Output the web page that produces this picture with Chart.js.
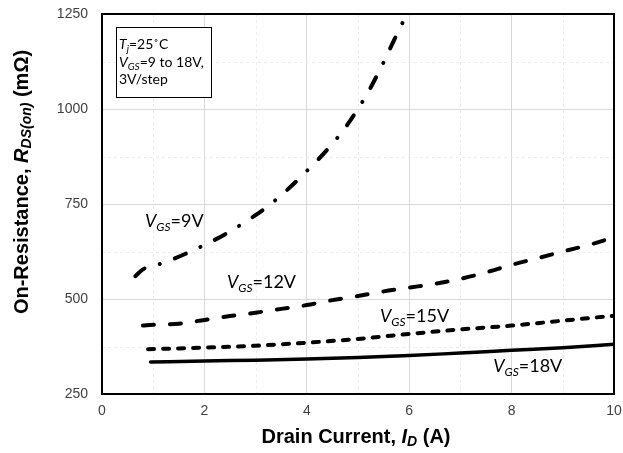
<!DOCTYPE html>
<html>
<head>
<meta charset="utf-8">
<script src="https://cdn.jsdelivr.net/npm/chart.js@4"></script>
<style>
  html, body { margin: 0; padding: 0; background: #fff; }
  #wrap { width: 623px; height: 453px; }
</style>
</head>
<body>
<div id="wrap"><canvas id="canvas" width="623" height="453"></canvas></div>
<script>
// Drain current (A) and on-resistance (mOhm)
const current9 = [0.65, 0.8, 1.2, 1.6, 2.0, 2.4, 2.8, 3.2, 3.6, 4.0, 4.4, 4.8, 5.2, 5.5, 5.7, 5.9];
const rds9 = [560, 578, 595, 617, 642, 670, 703, 740, 785, 837, 893, 960, 1045, 1123, 1180, 1235];

const current12 = [0.8, 1.0, 1.5, 2.0, 2.5, 3.0, 3.5, 4.0, 4.5, 5.0, 5.5, 6.0, 6.5, 7.0, 7.5, 8.0, 8.5, 9.0, 9.5, 10];
const rds12 = [430, 432, 435, 445, 455, 464, 474, 484, 497, 508, 520, 530, 540, 553, 570, 590, 607, 625, 642, 662];

const current15 = [0.9, 1.5, 2, 3, 4, 5, 6, 7, 8, 9, 10];
const rds15 = [368, 370, 372, 377, 385, 395, 408, 420, 430, 443, 456];

const current18 = [0.95, 2, 3, 4, 5, 6, 7, 8, 9, 10];
const rds18 = [334, 337, 339, 342, 346, 351, 358, 365, 372, 381];

const xTicks = [0, 2, 4, 6, 8, 10];
const yTicks = [250, 500, 750, 1000, 1250];

// curve labels, anchored in data units
const curveLabels = [
  { gs: '=9V', x: 0.84, y: 690 },
  { gs: '=12V', x: 2.44, y: 529 },
  { gs: '=15V', x: 5.43, y: 440 },
  { gs: '=18V', x: 7.64, y: 309 }
];

function pts(xs, ys) {
  return xs.map((x, i) => ({ x: x, y: ys[i] }));
}

// draw a run of text pieces with different fonts / offsets
function richText(ctx, parts, x, y, align) {
  let w = 0;
  parts.forEach(p => { ctx.font = p.font; w += ctx.measureText(p.t).width; });
  let cx = align === 'center' ? x - w / 2 : x;
  parts.forEach(p => {
    ctx.font = p.font;
    ctx.fillText(p.t, cx, y + (p.dy || 0));
    cx += ctx.measureText(p.t).width;
  });
}

const LAB = '"Lato", "Open Sans", sans-serif';
const AX = '"Liberation Sans", Arial, sans-serif';

const extras = {
  id: 'extras',
  beforeDatasetsDraw(chart) {
    // minor dashed grid
    const { ctx, chartArea: a, scales: { x, y } } = chart;
    ctx.save();
    ctx.strokeStyle = '#ececec';
    ctx.lineWidth = 1;
    ctx.setLineDash([3, 3]);
    for (let v = 1; v < 10; v += 2) {
      const px = Math.round(x.getPixelForValue(v)) + 0.5;
      ctx.beginPath(); ctx.moveTo(px, a.top); ctx.lineTo(px, a.bottom); ctx.stroke();
    }
    for (let v = 375; v < 1250; v += 250) {
      const py = Math.round(y.getPixelForValue(v)) + 0.5;
      ctx.beginPath(); ctx.moveTo(a.left, py); ctx.lineTo(a.right, py); ctx.stroke();
    }
    ctx.restore();
  },
  afterDatasetsDraw(chart) {
    const { ctx, chartArea: a, scales: { x, y } } = chart;
    ctx.save();
    // plot frame
    ctx.strokeStyle = '#000';
    ctx.lineWidth = 2;
    ctx.strokeRect(a.left, a.top, a.right - a.left, a.bottom - a.top);

    // curve labels
    ctx.fillStyle = '#000';
    ctx.textBaseline = 'alphabetic';
    ctx.textAlign = 'left';
    curveLabels.forEach(l => {
      richText(ctx, [
        { t: 'V', font: 'italic 18px ' + LAB },
        { t: 'GS', font: 'italic 12px ' + LAB, dy: 4 },
        { t: l.gs, font: '18px ' + LAB }
      ], x.getPixelForValue(l.x), y.getPixelForValue(l.y), 'left');
    });

    // condition box
    const bx = a.left + 14, by = a.top + 13;
    ctx.fillStyle = '#fff';
    ctx.fillRect(bx, by, 95, 70);
    ctx.strokeStyle = '#000';
    ctx.lineWidth = 1;
    ctx.strokeRect(bx + 0.5, by + 0.5, 95, 70);
    ctx.fillStyle = '#000';
    richText(ctx, [
      { t: 'T', font: 'italic 14px ' + LAB },
      { t: 'j', font: 'italic 10px ' + LAB, dy: 3 },
      { t: '=25\u02DAC', font: '14px ' + LAB }
    ], bx + 3, by + 22, 'left');
    richText(ctx, [
      { t: 'V', font: 'italic 14px ' + LAB },
      { t: 'GS', font: 'italic 10px ' + LAB, dy: 3 },
      { t: '=9 to 18V,', font: '14px ' + LAB }
    ], bx + 3, by + 40, 'left');
    richText(ctx, [
      { t: '3V/step', font: '14px ' + LAB }
    ], bx + 3, by + 57, 'left');

    // x axis title
    ctx.textBaseline = 'middle';
    richText(ctx, [
      { t: 'Drain Current, ', font: 'bold 20px ' + AX },
      { t: 'I', font: 'italic bold 20px ' + AX },
      { t: 'D', font: 'italic bold 14px ' + AX, dy: 5 },
      { t: ' (A)', font: 'bold 20px ' + AX }
    ], 356, 437, 'center');

    // y axis title
    ctx.translate(22, 182);
    ctx.rotate(-Math.PI / 2);
    richText(ctx, [
      { t: 'On-Resistance, ', font: 'bold 20px ' + AX },
      { t: 'R', font: 'italic bold 20px ' + AX },
      { t: 'DS(on)', font: 'italic bold 14px ' + AX, dy: 5 },
      { t: ' (m\u03A9)', font: 'bold 20px ' + AX }
    ], 0, 0, 'center');
    ctx.restore();
  }
};

const line = (label, xs, ys, dash, w) => ({
  label: label,
  data: pts(xs, ys),
  borderColor: '#000',
  borderWidth: w,
  borderDash: dash,
  borderCapStyle: 'round',
  pointRadius: 0,
  cubicInterpolationMode: 'monotone',
  fill: false
});

const data = {
  datasets: [
    line('VGS=9V', current9, rds9, [12, 16, 0.1, 16], 4),
    line('VGS=12V', current12, rds12, [11, 16], 4),
    line('VGS=15V', current15, rds15, [6, 9], 4),
    line('VGS=18V', current18, rds18, [], 3.5)
  ]
};

const config = {
  type: 'line',
  data: data,
  options: {
    responsive: false,
    animation: false,
    layout: { padding: { top: 14, right: 9, left: 0, bottom: 0 } },
    plugins: { legend: { display: false }, tooltip: { enabled: false } },
    scales: {
      x: {
        type: 'linear',
        min: 0, max: 10,
        afterFit: s => { s.height = 59; s.paddingLeft = 0; s.paddingRight = 0; },
        afterBuildTicks: s => { s.ticks = xTicks.map(v => ({ value: v })); },
        grid: { color: '#d9d9d9', drawTicks: false },
        border: { display: false },
        ticks: { padding: 9, color: '#404040', font: { family: AX, size: 14 }, maxRotation: 0 }
      },
      y: {
        min: 250, max: 1250,
        afterFit: s => { s.width = 102; s.paddingTop = 0; s.paddingBottom = 0; },
        afterBuildTicks: s => { s.ticks = yTicks.map(v => ({ value: v })); },
        grid: { color: '#d9d9d9', drawTicks: false },
        border: { display: false },
        ticks: { padding: 14, color: '#404040', font: { family: AX, size: 14 }, callback: v => String(v) }
      }
    }
  },
  plugins: [extras]
};

const canvas = document.getElementById('canvas');
const chart = new Chart(canvas, config);
</script>
</body>
</html>
